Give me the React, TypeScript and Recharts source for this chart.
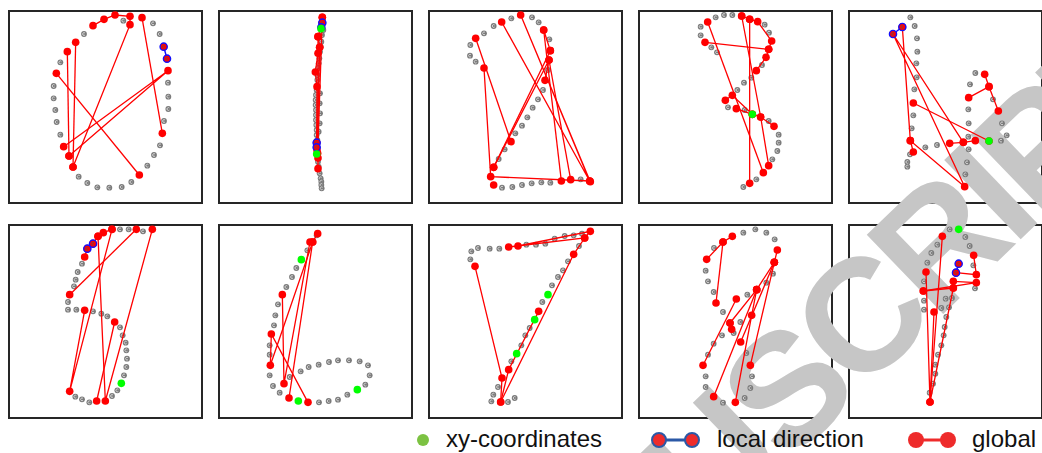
import React from 'react';
import { ScatterChart, Scatter, XAxis, YAxis } from 'recharts';

type Pt = [number, number];

// Handwritten digit samples: pen trace (gray), global-context links (red),
// local-direction pairs (blue ring) and raw xy-coordinate picks (green).
// Coordinates are on a 600 x 588 canvas, y grows downward.

const p1Trace: Pt[] = [[346,32],[435,40],[455,72],[228,72],[157,157],[480,218],[137,228],[481,260],[137,265],[481,297],[142,300],[468,333],[146,336],[157,374],[456,406],[438,435],[418,467],[370,516],[341,531],[304,533],[268,532],[238,519],[212,500]];
const p1Global: Pt[][] = [
  [[255,47],[288,28],[321,15],[366,19],[366,44],[195,471]],
  [[203,97],[195,471]],
  [[178,125],[183,438]],
  [[145,190],[394,495]],
  [[167,410],[480,182],[183,438]],
  [[402,23],[463,370]],
];
const p1Local: Pt[][] = [[[467,110],[477,146]]];
const p1Xy: Pt[] = [];

const p2Trace: Pt[] = [[316,60],[312,75],[310,95],[308,110],[306,125],[304,145],[302,160],[300,175],[298,195],[298,210],[296,240],[306,250],[294,255],[293,270],[305,280],[293,285],[294,300],[306,310],[294,315],[294,330],[305,340],[295,345],[296,360],[302,365],[296,375],[298,390],[300,455],[302,470],[305,490],[308,505],[310,515],[310,525],[311,535]];
const p2Global: Pt[][] = [
  [[313,22],[313,38],[300,80],[305,112],[300,130],[292,186],[297,230],[296,398]],
  [[300,80],[300,444],[300,476]],
  [[305,112],[297,420]],
  [[313,22],[299,430]],
];
const p2Local: Pt[][] = [[[313,38],[310,52]],[[296,398],[296,412]]];
const p2Xy: Pt[] = [[309,56],[296,432]];

const p3Trace: Pt[] = [[127,105],[126,137],[143,155],[168,70],[197,48],[250,25],[312,22],[332,37],[364,88],[360,180],[345,240],[330,268],[314,293],[298,322],[282,347],[262,370],[230,418],[212,447],[197,525],[222,533],[253,531],[282,525],[311,520],[340,517],[367,518],[458,508]];
const p3Global: Pt[][] = [
  [[143,85],[249,395]],
  [[168,174],[188,500],[485,513]],
  [[197,472],[367,122]],
  [[197,472],[363,150],[351,211]],
  [[221,36],[485,513],[278,15],[487,515]],
  [[347,60],[367,122]],
  [[347,60],[400,513]],
  [[363,150],[428,509]],
  [[197,525]],
];
const p3Local: Pt[][] = [];
const p3Xy: Pt[] = [];

const p4Trace: Pt[] = [[233,22],[258,15],[283,15],[188,50],[188,76],[220,112],[237,127],[380,44],[393,68],[372,165],[340,203],[318,218],[298,240],[270,292],[320,300],[392,333],[422,374],[422,398],[418,423],[403,448],[355,508],[316,531]];
const p4Global: Pt[][] = [
  [[311,18],[335,28],[359,35],[401,93],[392,118],[384,142],[355,182]],
  [[201,97],[392,118]],
  [[209,36],[376,488]],
  [[311,18],[368,321],[392,467]],
  [[335,28],[335,520]],
  [[262,271],[283,256],[343,313]],
  [[295,296],[343,313],[368,321],[408,349]],
];
const p4Local: Pt[][] = [];
const p4Xy: Pt[] = [[343,313]];

const p5Trace: Pt[] = [[187,22],[200,48],[207,85],[208,125],[205,160],[206,202],[199,238],[196,316],[191,355],[186,433],[178,456],[178,470],[232,412],[267,405],[382,189],[366,223],[435,268],[361,298],[362,340],[361,380],[362,418],[357,457],[352,493],[462,340],[476,376],[459,392]];
const p5Global: Pt[][] = [
  [[410,193],[423,230],[362,263]],
  [[423,230],[451,303]],
  [[163,51],[187,392],[350,530],[135,72],[346,397]],
  [[196,279],[423,393]],
  [[305,400],[346,397],[382,392]],
  [[187,392],[196,426]],
];
const p5Local: Pt[][] = [[[163,51],[135,72]]];
const p5Xy: Pt[] = [[423,393]];

const p6Trace: Pt[] = [[336,22],[362,22],[405,28],[222,125],[209,150],[203,173],[198,193],[180,240],[180,263],[205,263],[255,268],[280,275],[298,283],[336,316],[344,340],[353,362],[355,385],[357,410],[355,435],[348,460],[328,505],[312,522],[244,541],[222,532],[202,524]];
const p6Global: Pt[][] = [
  [[230,105],[238,80],[255,65],[270,43],[286,32],[312,22]],
  [[312,22],[185,508],[230,265]],
  [[270,43],[292,537],[433,22]],
  [[385,22],[185,218]],
  [[320,300],[266,537]],
];
const p6Local: Pt[][] = [[[238,80],[255,65]]];
const p6Xy: Pt[] = [[340,484]];

const p7Trace: Pt[] = [[296,40],[268,85],[235,138],[222,165],[205,195],[180,247],[172,280],[168,310],[155,370],[155,398],[155,460],[165,492],[185,512],[215,465],[248,448],[272,435],[302,428],[333,420],[360,415],[393,415],[425,418],[450,430],[455,460],[442,488],[388,518],[360,533],[332,537],[303,541]];
const p7Global: Pt[][] = [
  [[299,35],[284,60],[157,430],[160,336],[270,541]],
  [[284,60],[213,528]],
  [[276,60],[198,485],[193,218]],
];
const p7Local: Pt[][] = [];
const p7Xy: Pt[] = [[250,113],[241,537],[418,503]];

const p8Trace: Pt[] = [[127,112],[130,88],[150,78],[185,80],[214,80],[295,68],[324,68],[352,65],[380,50],[410,42],[437,40],[462,35],[453,72],[420,118],[405,145],[390,165],[372,190],[343,240],[305,318],[292,340],[280,370],[250,418],[210,495],[196,518],[190,538],[240,540],[260,528]];
const p8Global: Pt[][] = [
  [[242,75],[470,48],[487,28],[270,72]],
  [[141,133],[222,468],[218,540],[437,97],[470,48]],
  [[218,540],[242,443],[332,268]],
];
const p8Local: Pt[][] = [];
const p8Xy: Pt[] = [[360,218],[320,293],[266,395]];

const p9Trace: Pt[] = [[316,32],[352,22],[385,32],[410,52],[228,78],[203,146],[210,178],[227,210],[255,270],[328,218],[385,182],[405,155],[307,300],[287,333],[252,340],[227,365],[210,398],[203,463],[203,495],[255,542],[320,528],[337,498],[342,463],[325,393]];
const p9Global: Pt[][] = [
  [[206,112],[255,60],[283,43]],
  [[255,60],[234,243]],
  [[418,84],[409,121],[337,430]],
  [[409,121],[356,203],[276,303]],
  [[409,121],[308,360]],
  [[356,203],[227,524]],
  [[295,231],[195,430]],
  [[356,203],[341,280],[292,541]],
  [[276,303],[281,322]],
];
const p9Local: Pt[][] = [];
const p9Xy: Pt[] = [];

const p10Trace: Pt[] = [[305,22],[352,45],[365,72],[268,68],[250,93],[238,122],[228,178],[376,130],[381,199],[228,236],[228,263],[293,230],[312,228],[280,258],[303,256],[295,285],[290,315],[287,340],[280,370],[270,398],[262,428],[262,455],[255,485],[245,512]];
const p10Global: Pt[][] = [
  [[283,43],[246,540],[234,150]],
  [[377,100],[385,158],[324,152]],
  [[226,207],[385,182],[316,178]],
  [[316,198],[246,540],[258,270]],
  [[226,207],[316,198]],
];
const p10Local: Pt[][] = [[[332,125],[324,152]]];
const p10Xy: Pt[] = [[332,22]];

const legendLabels = ['xy-coordinates', 'local direction', 'global'];
const watermarkText = 'MANUSCRIPT';

interface PanelData { trace: Pt[]; global: Pt[][]; local: Pt[][]; xy: Pt[] }

const panels: PanelData[] = [
  { trace: p1Trace, global: p1Global, local: p1Local, xy: p1Xy },
  { trace: p2Trace, global: p2Global, local: p2Local, xy: p2Xy },
  { trace: p3Trace, global: p3Global, local: p3Local, xy: p3Xy },
  { trace: p4Trace, global: p4Global, local: p4Local, xy: p4Xy },
  { trace: p5Trace, global: p5Global, local: p5Local, xy: p5Xy },
  { trace: p6Trace, global: p6Global, local: p6Local, xy: p6Xy },
  { trace: p7Trace, global: p7Global, local: p7Local, xy: p7Xy },
  { trace: p8Trace, global: p8Global, local: p8Local, xy: p8Xy },
  { trace: p9Trace, global: p9Global, local: p9Local, xy: p9Xy },
  { trace: p10Trace, global: p10Global, local: p10Local, xy: p10Xy },
];

const toData = (pts: Pt[]) => pts.map(([x, y]) => ({ x, y }));

const RED = '#ff0000';
const BLUE = '#1010ff';
const GREEN = '#00ff00';

const GrayDot = (props: any) => {
  const { cx, cy } = props;
  if (cx == null || cy == null) return null;
  return (
    <g>
      <circle cx={cx} cy={cy} r={2.9} fill="#7b7b7b" />
      <path
        d={`M ${cx + 1.0} ${cy - 1.0} A 1.4 1.4 0 1 0 ${cx + 1.0} ${cy + 1.0}`}
        fill="none"
        stroke="#e4e4e4"
        strokeWidth={0.8}
      />
    </g>
  );
};

const RedDot = (props: any) => {
  const { cx, cy } = props;
  if (cx == null || cy == null) return null;
  return <circle cx={cx} cy={cy} r={3.8} fill={RED} />;
};

const LocalDot = (props: any) => {
  const { cx, cy } = props;
  if (cx == null || cy == null) return null;
  return (
    <g>
      <circle cx={cx} cy={cy} r={3.6} fill={RED} stroke={BLUE} strokeWidth={1.4} />
      <path
        d={`M ${cx + 0.9} ${cy - 0.9} A 1.3 1.3 0 1 0 ${cx + 0.9} ${cy + 0.9}`}
        fill="none"
        stroke="#555"
        strokeWidth={0.8}
      />
    </g>
  );
};

const GreenDot = (props: any) => {
  const { cx, cy } = props;
  if (cx == null || cy == null) return null;
  return <circle cx={cx} cy={cy} r={3.8} fill={GREEN} />;
};

const COL_STEP = 210;

function Panel({ data, index }: { data: PanelData; index: number }) {
  const col = index % 5;
  const row = Math.floor(index / 5);
  const left = 8 + col * COL_STEP;
  const top = row === 0 ? 10 : 222;
  return (
    <div style={{ position: 'absolute', left, top, width: 200, height: 196, zIndex: 3 }}>
      <ScatterChart width={200} height={196} margin={{ top: 0, right: 0, bottom: 0, left: 0 }}>
        <XAxis type="number" dataKey="x" domain={[0, 600]} hide />
        <YAxis type="number" dataKey="y" domain={[0, 588]} reversed hide />
        <Scatter data={toData(data.trace)} shape={GrayDot} isAnimationActive={false} />
        {data.global.map((seg, i) => (
          <Scatter
            key={`g${i}`}
            data={toData(seg)}
            line={{ stroke: RED, strokeWidth: 1.3 }}
            shape={RedDot}
            isAnimationActive={false}
          />
        ))}
        {data.local.map((seg, i) => (
          <Scatter
            key={`l${i}`}
            data={toData(seg)}
            line={{ stroke: BLUE, strokeWidth: 1.5 }}
            shape={LocalDot}
            isAnimationActive={false}
          />
        ))}
        <Scatter data={toData(data.xy)} shape={GreenDot} isAnimationActive={false} />
      </ScatterChart>
    </div>
  );
}

function Frame({ index }: { index: number }) {
  const col = index % 5;
  const row = Math.floor(index / 5);
  return (
    <div
      style={{
        position: 'absolute',
        left: 8 + col * COL_STEP,
        top: row === 0 ? 10 : 224,
        width: 195,
        height: row === 0 ? 194 : 195,
        border: '2px solid #262626',
        boxSizing: 'border-box',
        zIndex: 1,
      }}
    />
  );
}

const labelStyle: React.CSSProperties = {
  position: 'absolute',
  top: 425,
  fontFamily: '"Liberation Sans", Arial, sans-serif',
  fontSize: 24,
  color: '#111',
  whiteSpace: 'nowrap',
  lineHeight: 'normal',
  zIndex: 3,
};

export default function App() {
  return (
    <div
      style={{
        position: 'absolute',
        left: 0,
        top: 0,
        width: 1042,
        height: 453,
        overflow: 'hidden',
        background: '#fff',
      }}
    >
      {panels.map((_, i) => (
        <Frame key={`f${i}`} index={i} />
      ))}

      <svg
        width={1042}
        height={453}
        style={{ position: 'absolute', left: 0, top: 0, zIndex: 2, pointerEvents: 'none' }}
      >
        <text
          transform="translate(465 776) rotate(-44)"
          fontFamily='"Liberation Sans", Arial, sans-serif'
          fontWeight="bold"
          fontSize={160}
          letterSpacing={-8}
          fill="#c6c6c6"
        >
          {watermarkText}
        </text>
      </svg>

      {panels.map((p, i) => (
        <Panel key={`p${i}`} data={p} index={i} />
      ))}

      <svg
        width={1042}
        height={453}
        style={{ position: 'absolute', left: 0, top: 0, zIndex: 3, pointerEvents: 'none' }}
      >
        <circle cx={423} cy={440} r={6} fill="#7cc242" />
        <line x1={659} y1={440} x2={692} y2={440} stroke="#2b58a6" strokeWidth={3} />
        <circle cx={659} cy={440} r={7} fill="#ee2b2b" stroke="#2b58a6" strokeWidth={2} />
        <circle cx={692} cy={440} r={7} fill="#ee2b2b" stroke="#2b58a6" strokeWidth={2} />
        <line x1={916} y1={440} x2={948} y2={440} stroke="#ee2b2b" strokeWidth={3} />
        <circle cx={916} cy={440} r={8} fill="#ee2b2b" />
        <circle cx={948} cy={440} r={8} fill="#ee2b2b" />
      </svg>
      <div style={{ ...labelStyle, left: 446 }}>{legendLabels[0]}</div>
      <div style={{ ...labelStyle, left: 717 }}>{legendLabels[1]}</div>
      <div style={{ ...labelStyle, left: 972 }}>{legendLabels[2]}</div>
    </div>
  );
}
